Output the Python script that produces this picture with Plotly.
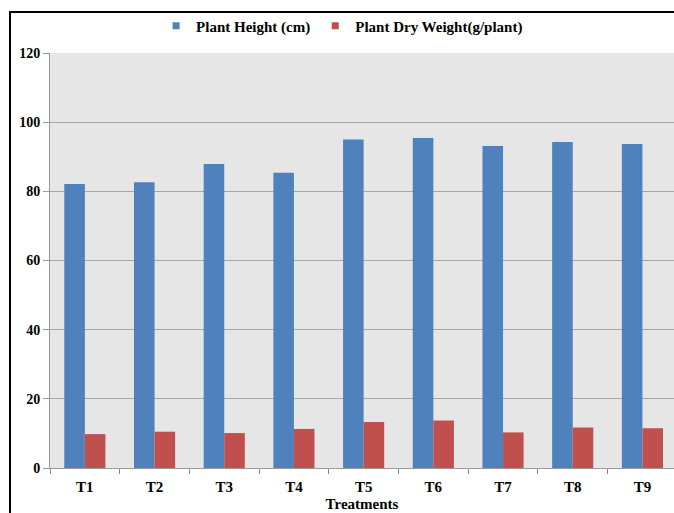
import plotly.graph_objects as go

treatments = ["T1", "T2", "T3", "T4", "T5", "T6", "T7", "T8", "T9"]
plant_height = [82.1, 82.6, 87.9, 85.4, 95.0, 95.4, 93.1, 94.3, 93.7]
dry_weight = [9.8, 10.5, 10.1, 11.3, 13.3, 13.7, 10.3, 11.7, 11.5]
series_names = ["Plant Height (cm)", "Plant Dry Weight(g/plant)"]
colors = ["#4F81BD", "#C0504D"]

font_family = "Liberation Serif, Times New Roman, serif"

fig = go.Figure()
for vals, name, col in zip([plant_height, dry_weight], series_names, colors):
    fig.add_trace(go.Bar(x=treatments, y=vals, name=name, showlegend=False,
                         marker=dict(color=col, line=dict(width=0))))
# legend proxies with small square markers
for name, col in zip(series_names, colors):
    fig.add_trace(go.Scatter(x=[None], y=[None], mode="markers", name="<b>" + name + "</b>",
                             marker=dict(symbol="square", size=7, color=col)))

fig.update_layout(
    width=674, height=513,
    margin=dict(l=50, r=0, t=53, b=45),
    paper_bgcolor="white",
    plot_bgcolor="#e6e6e6",
    barmode="group",
    bargap=0.41,
    bargroupgap=0,
    font=dict(family=font_family, size=14, color="black"),
    legend=dict(orientation="h", x=0.17, xanchor="left", y=1.065, yanchor="middle",
                font=dict(size=15, family=font_family), bgcolor="rgba(0,0,0,0)",
                itemwidth=30, tracegroupgap=0),
    xaxis=dict(
        range=[-0.5, 8.453],
        showgrid=False,
        ticks="outside", tickson="boundaries", ticklen=5, tickcolor="#888888",
        showline=True, linecolor="#999999", linewidth=1,
        tickfont=dict(size=15, family=font_family),
        ticklabelstandoff=5,
        tickprefix="<b>", ticksuffix="</b>",
        title=dict(text="<b>Treatments</b>", font=dict(size=15, family=font_family), standoff=4),
    ),
    yaxis=dict(
        range=[0, 120], dtick=20,
        showgrid=True, gridcolor="#a6a6a6", gridwidth=1,
        zeroline=False,
        ticks="outside", ticklen=6, tickcolor="#999999",
        showline=True, linecolor="#999999", linewidth=1,
        tickfont=dict(size=14, family=font_family),
        tickprefix="<b>", ticksuffix="</b>",
    ),
    shapes=[dict(type="rect", xref="paper", yref="paper",
                 x0=-0.0641, x1=1.1, y0=-0.3, y1=1.0988,
                 line=dict(color="black", width=2), layer="above")],
)

fig.write_html("out.html", config={"displayModeBar": False},
               post_script="document.body.style.margin='0';document.body.style.overflow='hidden';")
